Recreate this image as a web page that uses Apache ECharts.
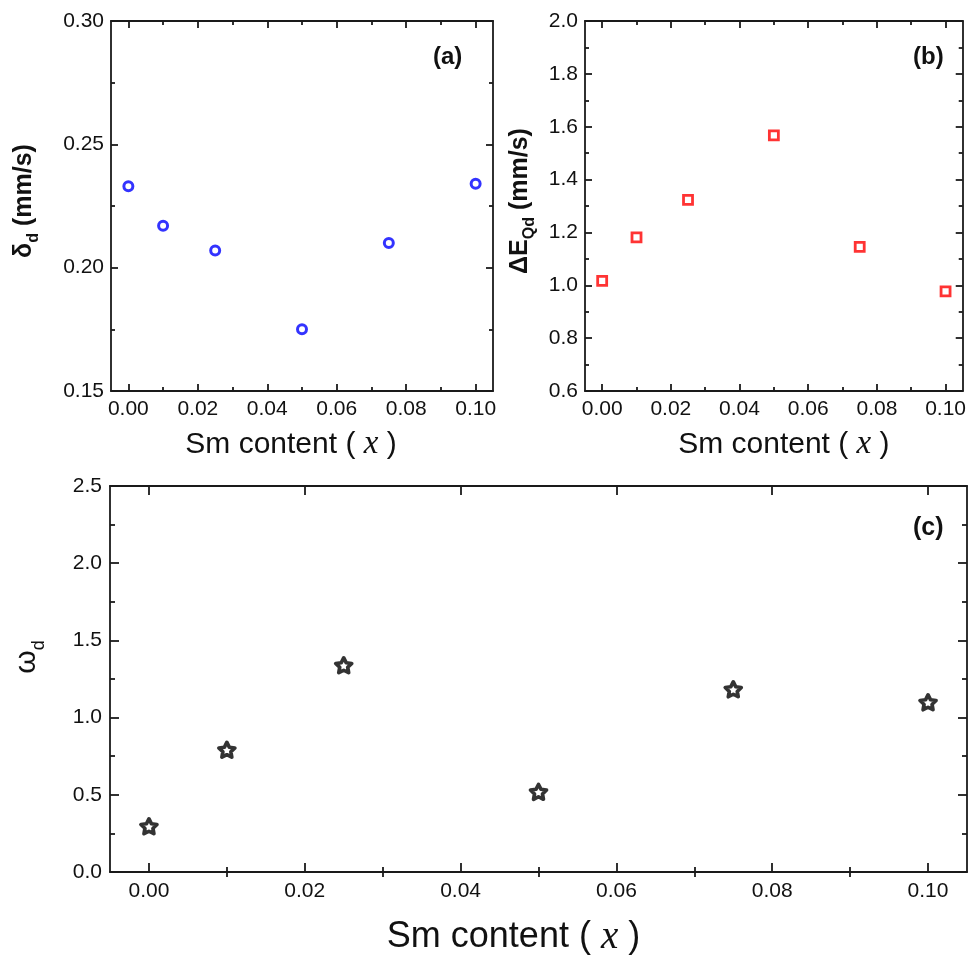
<!DOCTYPE html>
<html>
<head>
<meta charset="utf-8">
<script src="https://cdn.jsdelivr.net/npm/echarts@6/dist/echarts.min.js"></script>
<style>
html,body{margin:0;padding:0;background:#fff;}
#chart{width:969px;height:958px;}
</style>
</head>
<body>
<div id="chart"></div>
<script>
// ---- data ----
const smContent = [0, 0.01, 0.025, 0.05, 0.075, 0.1];
const isomerShift = [0.233, 0.217, 0.207, 0.175, 0.210, 0.234];      // (a) δd (mm/s)
const quadSplit = [1.017, 1.181, 1.323, 1.567, 1.145, 0.977];        // (b) ΔEQd (mm/s)
const lineWidth = [0.296, 0.792, 1.339, 0.519, 1.183, 1.099];        // (c) ωd
const xMajorTicks = [0, 0.02, 0.04, 0.06, 0.08, 0.10];
const xMinorTicks = [0.01, 0.03, 0.05, 0.07, 0.09];
const panelLabels = ['(a)', '(b)', '(c)'];

const FONT = '"Liberation Sans", Arial, sans-serif';
const AX = '#1a1a1a';
const TXT = '#111';
const LW = 1.8;

const grids = [
  {left: 111, top: 21, width: 382, height: 370},
  {left: 585, top: 21, width: 382, height: 370},
  {left: 110, top: 486, width: 857, height: 389}
];

const xNameRich = (size) => ({
  n: {fontSize: size, fontFamily: FONT, color: TXT},
  i: {fontSize: size + 3, fontFamily: '"Liberation Serif", "Times New Roman", serif', fontStyle: 'italic', color: TXT}
});

function makeXAxes(gi, o) {
  const base = {
    type: 'value', gridIndex: gi, min: -0.005, max: 0.105,
    splitLine: {show: false}
  };
  return [
    Object.assign({}, base, {
      position: 'bottom',
      axisLine: {show: true, onZero: false, lineStyle: {color: AX, width: LW}},
      axisTick: {show: true, inside: true, length: o.major, customValues: xMajorTicks, lineStyle: {color: AX, width: LW}},
      axisLabel: {show: true, customValues: xMajorTicks, formatter: v => v.toFixed(2), fontSize: o.label, fontFamily: FONT, color: TXT, margin: o.margin},
      name: '{n|Sm content ( }{i|x}{n| )}', nameLocation: 'middle', nameGap: o.nameGap,
      nameTextStyle: {rich: xNameRich(o.name), padding: o.namePad}
    }),
    Object.assign({}, base, {
      position: 'bottom',
      axisLine: {show: false},
      axisTick: {show: true, inside: true, length: o.minor, customValues: xMinorTicks, lineStyle: {color: AX, width: LW}},
      axisLabel: {show: false}
    }),
    Object.assign({}, base, {
      position: 'top',
      axisLine: {show: true, onZero: false, lineStyle: {color: AX, width: LW}},
      axisTick: {show: true, inside: true, length: o.major, customValues: xMajorTicks, lineStyle: {color: AX, width: LW}},
      axisLabel: {show: false}
    }),
    Object.assign({}, base, {
      position: 'top',
      axisLine: {show: false},
      axisTick: {show: true, inside: true, length: o.minor, customValues: xMinorTicks, lineStyle: {color: AX, width: LW}},
      axisLabel: {show: false}
    })
  ];
}

function makeYAxes(gi, o) {
  const base = {
    type: 'value', gridIndex: gi, min: o.min, max: o.max, interval: o.interval,
    splitLine: {show: false},
    axisLine: {show: true, onZero: false, lineStyle: {color: AX, width: LW}},
    axisTick: {show: true, inside: true, length: o.major, lineStyle: {color: AX, width: LW}},
    minorTick: {show: true, splitNumber: 2, length: o.minor, lineStyle: {color: AX, width: LW}},
    minorSplitLine: {show: false}
  };
  return [
    Object.assign({}, base, {
      position: 'left',
      axisLabel: {show: true, formatter: v => v.toFixed(o.dec), fontSize: o.label, fontFamily: FONT, color: TXT, margin: o.margin},
      name: o.name, nameLocation: 'middle', nameGap: o.nameGap,
      nameTextStyle: {rich: o.rich, padding: o.namePad || 0}
    }),
    Object.assign({}, base, {
      position: 'right',
      axisLabel: {show: false}
    })
  ];
}

const richBold = {
  m: {fontSize: 25, fontWeight: 'bold', fontFamily: FONT, color: TXT, lineHeight: 28},
  s: {fontSize: 16, fontWeight: 'bold', fontFamily: FONT, color: TXT, lineHeight: 14, verticalAlign: 'top', padding: [16, 0, 0, 0]}
};
const richPlain = {
  m: {fontSize: 30, fontFamily: FONT, color: TXT, lineHeight: 30},
  s: {fontSize: 18, fontFamily: FONT, color: TXT, lineHeight: 16, verticalAlign: 'top', padding: [18, 0, 0, 0]}
};

const xAxis = [].concat(
  makeXAxes(0, {major: 7, minor: 4, label: 21, margin: 8, name: 30, nameGap: 37, namePad: [0, 22, 0, 0]}),
  makeXAxes(1, {major: 7, minor: 4, label: 21, margin: 8, name: 30, nameGap: 37, namePad: [0, 0, 0, 20]}),
  makeXAxes(2, {major: 9, minor: 5, label: 21, margin: 9, name: 36, nameGap: 46, namePad: [0, 50, 0, 0]})
);
const yAxis = [].concat(
  makeYAxes(0, {min: 0.15, max: 0.30, interval: 0.05, dec: 2, major: 7, minor: 4, label: 21, margin: 7,
    name: '{m|δ}{s|d}{m| (mm/s)}', nameGap: 73, rich: richBold, namePad: [0, 0, 0, 10]}),
  makeYAxes(1, {min: 0.6, max: 2.0, interval: 0.2, dec: 1, major: 7, minor: 4, label: 21, margin: 7,
    name: '{m|ΔE}{s|Qd}{m| (mm/s)}', nameGap: 51, rich: richBold, namePad: [0, 0, 0, 10]}),
  makeYAxes(2, {min: 0, max: 2.5, interval: 0.5, dec: 1, major: 9, minor: 5, label: 21, margin: 8,
    name: '{m|ω}{s|d}', nameGap: 68, rich: richPlain, namePad: [0, 0, 0, 44]})
);

const starPath = 'path://M50,2 L64.7,31.8 L97.6,36.5 L73.8,59.7 L79.4,92.5 L50,77 L20.6,92.5 L26.2,59.7 L2.4,36.5 L35.3,31.8 Z';

const pairs = (ys) => smContent.map((x, i) => [x, ys[i]]);

const option = {
  backgroundColor: '#fff',
  animation: false,
  grid: grids,
  xAxis: xAxis,
  yAxis: yAxis,
  title: [
    {text: panelLabels[0], left: 433, top: 45, padding: 0, textStyle: {fontSize: 24, fontWeight: 'bold', fontFamily: FONT, color: TXT}},
    {text: panelLabels[1], left: 913, top: 45, padding: 0, textStyle: {fontSize: 24, fontWeight: 'bold', fontFamily: FONT, color: TXT}},
    {text: panelLabels[2], left: 913, top: 516, padding: 0, textStyle: {fontSize: 25, fontWeight: 'bold', fontFamily: FONT, color: TXT}}
  ],
  series: [
    {type: 'scatter', xAxisIndex: 0, yAxisIndex: 0, data: pairs(isomerShift),
      symbol: 'circle', symbolSize: 9, itemStyle: {color: '#fff', borderColor: '#0000ff', borderWidth: 3}},
    {type: 'scatter', xAxisIndex: 4, yAxisIndex: 2, data: pairs(quadSplit),
      symbol: 'rect', symbolSize: 9, itemStyle: {color: '#fff', borderColor: '#ff0000', borderWidth: 2.8}},
    {type: 'scatter', xAxisIndex: 8, yAxisIndex: 4, data: pairs(lineWidth),
      symbol: starPath, symbolSize: [16, 15], itemStyle: {color: '#fff', borderColor: '#000', borderWidth: 3.6, borderJoin: 'round'}}
  ]
};

const chart = echarts.init(document.getElementById('chart'), null, {renderer: 'canvas'});
chart.setOption(option);
</script>
</body>
</html>
